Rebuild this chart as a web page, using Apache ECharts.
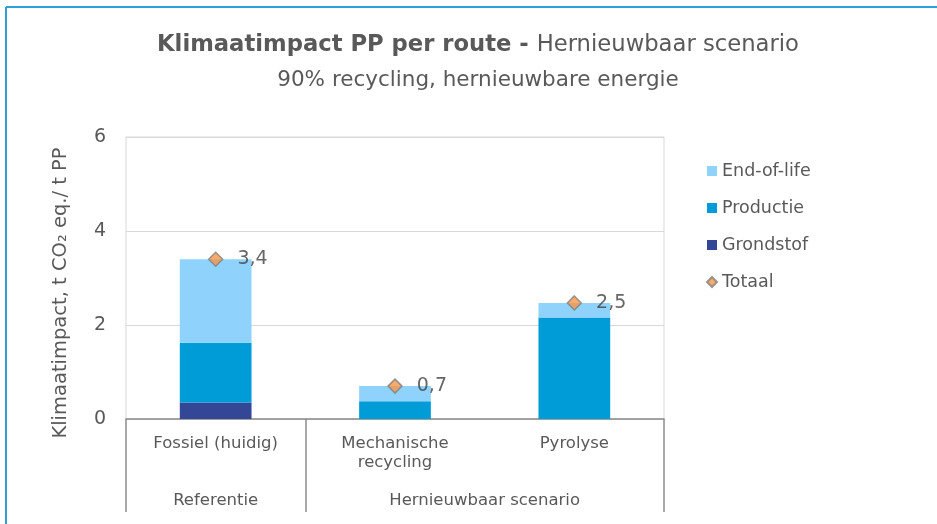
<!DOCTYPE html>
<html>
<head>
<meta charset="utf-8">
<script src="https://cdn.jsdelivr.net/npm/echarts@6/dist/echarts.min.js"></script>
<style>html,body{margin:0;padding:0;background:#fff}#c{width:937px;height:524px}</style>
</head>
<body>
<div id="c"></div>
<script>
const categories = ['Fossiel (huidig)', 'Mechanische\nrecycling', 'Pyrolyse'];
const groups = ['Referentie', 'Hernieuwbaar scenario'];
const groupSizes = [1, 2];
const grondstof = [0.35, 0, 0];
const productie = [1.27, 0.38, 2.16];
const endOfLife = [1.78, 0.32, 0.31];
const totaal = [3.4, 0.7, 2.47];
const yTicks = [0, 2, 4, 6];

const FONT = 'DejaVu Sans';
const TXT = '#595959';

// group boundaries and centers along the category index scale
const bounds = [0];
const centers = [];
groupSizes.forEach(function (s, i) {
  const start = bounds[bounds.length - 1];
  centers.push(start + s / 2);
  bounds.push(start + s);
});

const chart = echarts.init(document.getElementById('c'), null, {renderer: 'canvas'});
chart.setOption({
  animation: false,
  textStyle: {fontFamily: FONT},
  title: {
    text: '{b|Klimaatimpact PP per route - }{r|Hernieuwbaar scenario}',
    subtext: '90% recycling, hernieuwbare energie',
    left: 478, top: 34, textAlign: 'center', padding: 0, itemGap: 12,
    textStyle: {
      fontFamily: FONT, color: TXT, fontSize: 22.7,
      rich: {
        b: {fontFamily: FONT, fontWeight: 'bold', fontSize: 22.7, color: TXT},
        r: {fontFamily: FONT, fontWeight: 'normal', fontSize: 22.7, color: TXT}
      }
    },
    subtextStyle: {fontFamily: FONT, color: TXT, fontSize: 21.5}
  },
  legend: {
    orient: 'vertical', left: 701, top: 157,
    itemWidth: 10, itemHeight: 10, itemGap: 19,
    textStyle: {fontFamily: FONT, fontSize: 17.5, color: TXT, lineHeight: 18},
    data: [
      {name: 'End-of-life', icon: 'rect'},
      {name: 'Productie', icon: 'rect'},
      {name: 'Grondstof', icon: 'rect'},
      {name: 'Totaal', icon: 'diamond'}
    ]
  },
  grid: {left: 126, right: 273, top: 137, bottom: 105, show: true, borderColor: '#d9d9d9', borderWidth: 1},
  xAxis: [{
    type: 'category', data: categories,
    axisLine: {lineStyle: {color: '#8c8c8c', width: 1.5}},
    axisTick: {show: false},
    axisLabel: {fontFamily: FONT, fontSize: 16.5, color: TXT, margin: 15, lineHeight: 19, interval: 0}
  }, {
    type: 'value', position: 'bottom', min: 0, max: categories.length,
    axisLine: {show: false},
    splitLine: {show: false},
    axisTick: {show: true, customValues: bounds.slice(), length: 93, lineStyle: {color: '#8c8c8c', width: 1.5}},
    axisLabel: {
      show: true, customValues: centers.slice(), margin: 73,
      fontFamily: FONT, fontSize: 16.5, color: TXT,
      formatter: function (v) { const i = centers.indexOf(v); return i >= 0 ? groups[i] : ''; }
    }
  }],
  yAxis: {
    type: 'value', min: yTicks[0], max: yTicks[yTicks.length - 1], interval: yTicks[1] - yTicks[0],
    name: 'Klimaatimpact, t CO₂ eq./ t PP', nameLocation: 'middle', nameGap: 55,
    nameTextStyle: {fontFamily: FONT, fontSize: 19.5, color: TXT, padding: [0, 30, 0, 0]},
    axisLine: {show: false}, axisTick: {show: false},
    axisLabel: {fontFamily: FONT, fontSize: 19, color: TXT, margin: 20},
    splitLine: {lineStyle: {color: '#d9d9d9', width: 1}}
  },
  series: [
    {name: 'Grondstof', type: 'bar', stack: 's', data: grondstof, barWidth: '40%', itemStyle: {color: '#344796'}},
    {name: 'Productie', type: 'bar', stack: 's', data: productie, itemStyle: {color: '#009cd8'}},
    {name: 'End-of-life', type: 'bar', stack: 's', data: endOfLife, itemStyle: {color: '#8fd3fd'}},
    {name: 'Totaal', type: 'scatter', data: totaal, symbol: 'diamond', symbolSize: 14,
      itemStyle: {color: '#f79646', borderColor: '#7f7f7f', borderWidth: 1.5},
      label: {show: true, position: 'right', distance: 14, fontFamily: FONT, fontSize: 19, color: '#404040',
        formatter: function (p) { return p.value.toFixed(1).replace('.', ','); }}}
  ],
  graphic: [
    {type: 'line', silent: true, shape: {x1: 6, y1: 7, x2: 937, y2: 7}, style: {stroke: '#2a9fd8', lineWidth: 2}},
    {type: 'line', silent: true, shape: {x1: 6, y1: 7, x2: 6, y2: 524}, style: {stroke: '#2a9fd8', lineWidth: 2}}
  ]
});
</script>
</body>
</html>
